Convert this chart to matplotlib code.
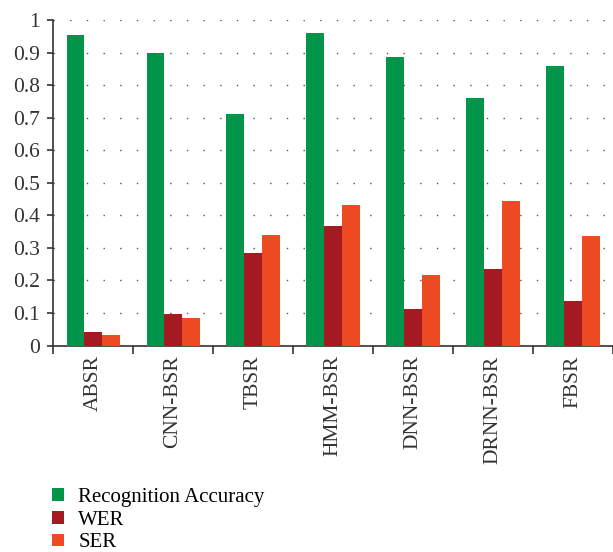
import matplotlib
matplotlib.use("Agg")
import matplotlib.pyplot as plt
import numpy as np
from matplotlib.patches import Patch

categories = ["ABSR", "CNN-BSR", "TBSR", "HMM-BSR", "DNN-BSR", "DRNN-BSR", "FBSR"]
accuracy = [0.954, 0.899, 0.711, 0.960, 0.886, 0.760, 0.859]
wer = [0.041, 0.097, 0.285, 0.367, 0.112, 0.235, 0.137]
ser = [0.032, 0.085, 0.340, 0.431, 0.217, 0.444, 0.336]
series_names = ["Recognition Accuracy", "WER", "SER"]
colors = ["#009548", "#A51921", "#EE4A24"]
yticks = [0, 0.1, 0.2, 0.3, 0.4, 0.5, 0.6, 0.7, 0.8, 0.9, 1]
ytick_labels = ["0", "0.1", "0.2", "0.3", "0.4", "0.5", "0.6", "0.7", "0.8", "0.9", "1"]

plt.rcParams['font.family'] = ['Liberation Serif', 'DejaVu Serif']

fig = plt.figure(figsize=(6.13, 5.52), dpi=100)
ax = fig.add_axes([0.0865, 0.374, 0.9135, 0.5897])

x = np.arange(len(categories))
w = 0.221
for i, (vals, c) in enumerate(zip([accuracy, wer, ser], colors)):
    ax.bar(x + (i - 1) * w, vals, width=w, color=c, zorder=3)

ax.set_ylim(0, 1)
ax.set_xlim(-0.5, 6.39)
ax.set_yticks(yticks)
ax.set_yticklabels(ytick_labels, fontsize=15.5, color="#333333")
ax.set_xticks(x)
ax.set_xticklabels(categories, rotation=90, fontsize=15.5, color="#333333")
ax.set_xticks(np.arange(-0.5, 7, 1), minor=True)
ax.tick_params(axis='x', which='major', length=0, pad=7)
ax.tick_params(axis='x', which='minor', length=6, width=1.2, direction='out', color="#333333")
ax.tick_params(axis='y', length=4.5, width=1.2, direction='out', color="#333333", pad=5)

ax.grid(axis='y', linestyle=(0, (1, 11)), color="#555555", linewidth=1.0, zorder=0)
for s in ['top', 'right']:
    ax.spines[s].set_visible(False)
for s in ['left', 'bottom']:
    ax.spines[s].set_linewidth(1.2)
    ax.spines[s].set_color("#333333")

handles = [Patch(facecolor=c, edgecolor='none') for c in colors]
fig.legend(handles, series_names, loc='upper left', bbox_to_anchor=(0.085, 0.116),
           frameon=False, fontsize=15, handlelength=0.55, handleheight=0.55,
           handletextpad=0.7, labelspacing=0.18, borderaxespad=0, borderpad=0)

fig.savefig("out.png", dpi=100)
